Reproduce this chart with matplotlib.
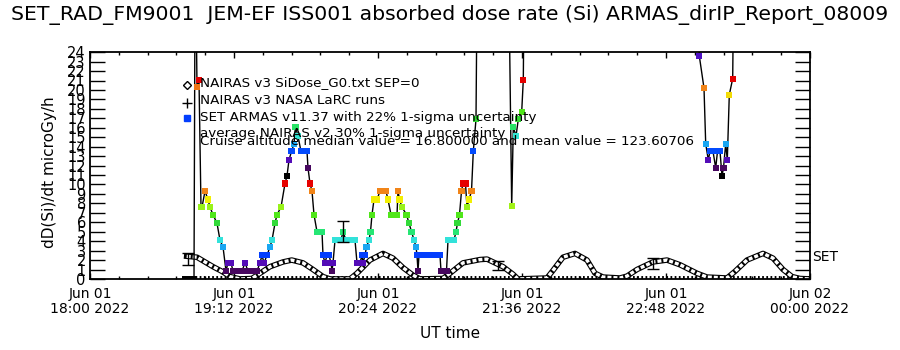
import numpy as np
import matplotlib
matplotlib.use("Agg")
import matplotlib.pyplot as plt
from matplotlib.colors import LinearSegmentedColormap
from matplotlib.ticker import MultipleLocator

# ---------------- data ----------------
title = "SET_RAD_FM9001  JEM-EF ISS001 absorbed dose rate (Si) ARMAS_dirIP_Report_08009"

# minutes after 2022-06-01 18:00 UT
tick_minutes = [0, 72, 144, 216, 288, 360]
tick_labels = ["Jun 01\n18:00 2022", "Jun 01\n19:12 2022", "Jun 01\n20:24 2022",
               "Jun 01\n21:36 2022", "Jun 01\n22:48 2022", "Jun 02\n00:00 2022"]

# NAIRAS v3 SiDose_G0 (diamonds)
nairas_minutes = [48.35, 53.5, 61.5, 66, 70, 75, 81, 85, 90, 96.5, 100.85, 106.5, 111.5,
                  116.5, 120, 130, 133.5, 140, 146.5, 151.5, 156.5, 161.5, 165, 176.5,
                  180, 186.5, 195, 198.5, 202.5, 206.5, 211.5, 214, 228.5, 231.5, 236.5,
                  242.5, 248.5, 252.5, 256.5, 265, 268.5, 273.5, 281.5, 288.5, 295,
                  303.5, 308.5, 318.5, 322.5, 328.5, 336.5, 341.5, 346.5, 351, 355, 360]
nairas_values = [2.4, 2.3, 1.3, 0.8, 0.25, 0.0, 0.05, 0.6, 1.3, 1.8, 2.0, 1.7, 1.0,
                 0.25, 0.0, 0.0, 0.6, 2.0, 2.7, 2.2, 1.2, 0.4, 0.0, 0.05,
                 0.6, 1.7, 2.05, 2.1, 1.7, 1.3, 0.5, 0.0, 0.1, 0.9, 2.3,
                 2.7, 2.0, 0.6, 0.2, 0.1, 0.3, 1.0, 1.8, 2.0, 1.5,
                 0.6, 0.2, 0.1, 0.8, 2.0, 2.7, 2.2, 1.0, 0.25, 0.05, 0.0]

# NAIRAS v3 NASA LaRC runs (+), zero level
larc_minutes = [52.5, 360]
larc_values = [0.0, 0.0]

# average NAIRAS v2 with 30% 1-sigma uncertainty
avg_minutes = [49, 126.5, 204, 281.5]
avg_values = [2.1, 5.0, 1.4, 1.65]
avg_errors = [0.6, 1.1, 0.45, 0.55]

# SET ARMAS v11.37 (values above 24 are off scale)
armas_minutes = [47.5, 49, 50.5, 52, 52.5, 53, 53.5, 54.5, 55.5, 56, 57.5, 59, 60, 61.5,
                 63.5, 65, 66.5, 68, 69, 70.5, 71.5, 73, 74.5, 76, 77.5, 79, 80.5, 82,
                 83.5, 85, 86, 87, 88.5, 90, 91, 92.5, 93.5, 95.5, 97.5, 98.5, 99.5,
                 100.75, 102, 102.75, 104, 105.5, 107, 108.5, 109, 110, 111, 112, 113.5,
                 115, 116, 116.5, 117.5, 118.5, 119.5, 120.5, 121, 121.5, 122.5, 124,
                 125.5, 126.5, 128, 129.5, 131, 132.5, 133.5, 135, 136, 136.5, 137.5,
                 138.25, 139.5, 140.25, 141, 142, 143.5, 145, 146.5, 148, 149, 150.5,
                 152, 153.5, 154, 154.75, 156, 158.25, 159.5, 160.75, 162, 163, 163.5,
                 164, 164.5, 166, 167.5, 169, 170.5, 172, 173.5, 175, 175.5, 177, 178.25,
                 179, 180.5, 182, 183, 183.75, 184.75, 185.75, 186.5, 187.75, 188.5,
                 189.5, 190.75, 191.65, 193, 193.5, 209.5, 210.85, 211.65, 213, 214.15,
                 215.85, 216.65, 217, 304, 304.65, 307, 307.85, 309.15, 310, 311.5,
                 312.85, 313.75, 315, 316, 316.75, 317.85, 318.65, 319.65, 321.35, 321.75]
armas_values = [0, 0, 0, 0, 30, 30, 20.3, 21.05, 7.6, 7.6, 9.3, 8.4, 7.6, 6.8,
                5.9, 4.1, 3.4, 0.85, 1.7, 1.7, 0.85, 0.85, 0.85, 0.85, 1.7, 0.85, 0.85, 0.85,
                0.85, 1.7, 2.5, 1.7, 2.5, 3.4, 4.1, 5.9, 6.8, 7.6, 10.1, 10.9, 12.6,
                13.5, 14.3, 16.1, 15.1, 13.5, 13.5, 13.5, 11.75, 10.1, 9.3, 6.8, 5.0,
                5.0, 5.0, 2.5, 1.7, 2.5, 2.5, 1.7, 0.85, 1.7, 4.1, 4.1,
                4.1, 5.0, 4.1, 4.1, 4.1, 4.1, 1.7, 1.7, 2.5, 1.7, 2.5,
                3.4, 4.1, 5.0, 6.8, 8.4, 8.4, 9.3, 9.3, 9.3, 8.4, 6.8,
                6.8, 6.8, 9.3, 8.4, 7.6, 6.8, 5.9, 5.0, 4.1, 3.4, 2.5,
                0.85, 2.5, 2.5, 2.5, 2.5, 2.5, 2.5, 2.5, 2.5, 0.85, 0.85, 0.85,
                4.1, 4.1, 4.1, 5.0, 5.9, 6.8, 9.3, 10.1, 10.1, 7.6,
                8.4, 9.3, 13.5, 16.9, 30, 30, 7.7, 16.1, 15.1, 16.9,
                17.7, 21.05, 30, 30, 23.6, 20.2, 14.3, 12.6, 13.5, 13.5,
                11.75, 13.5, 13.5, 10.9, 11.75, 14.3, 12.6, 19.5, 21.2, 30]

legend_lines = ["NAIRAS v3 SiDose_G0.txt SEP=0",
                "NAIRAS v3 NASA LaRC runs",
                "SET ARMAS v11.37 with 22% 1-sigma uncertainty",
                "average NAIRAS v2 30% 1-sigma uncertainty",
                "Cruise altitude median value = 16.800000 and mean value = 123.60706"]

# ---------------- style ----------------
color_cycle = 10.9
cmap = LinearSegmentedColormap.from_list("idl_rainbow", [
    (0.00, (0.0, 0.0, 0.0)),
    (0.08, (0.30, 0.03, 0.40)),
    (0.16, (0.33, 0.05, 0.75)),
    (0.23, (0.0, 0.25, 1.0)),
    (0.31, (0.10, 0.65, 0.95)),
    (0.38, (0.20, 0.90, 0.85)),
    (0.46, (0.15, 0.90, 0.45)),
    (0.55, (0.20, 0.85, 0.20)),
    (0.62, (0.30, 0.90, 0.10)),
    (0.70, (0.60, 0.95, 0.10)),
    (0.77, (0.95, 0.95, 0.0)),
    (0.85, (0.95, 0.55, 0.10)),
    (0.93, (0.90, 0.0, 0.0)),
    (1.00, (0.90, 0.0, 0.0)),
])

fig = plt.figure(figsize=(9, 3.5), dpi=100)
ax = fig.add_axes([0.1, 0.203, 0.8, 0.648])

# NAIRAS diamonds curve (hatched look)
ax.plot(nairas_minutes, nairas_values, color="black", lw=4.0, zorder=2,
        solid_joinstyle="round")
ax.plot(nairas_minutes, nairas_values, color="white", lw=2.4, zorder=2.1,
        dashes=(1.2, 0.6))

# LaRC zero-level + markers
ax.plot(larc_minutes, larc_values, color="black", lw=5, dashes=(0.25, 0.35), zorder=2)

# average NAIRAS v2 error bars
ax.errorbar(avg_minutes, avg_values, yerr=avg_errors, fmt="none", ecolor="black",
            elinewidth=1, capsize=4, capthick=1, zorder=4)

# ARMAS line + coloured dots
ax.plot(armas_minutes, armas_values, color="black", lw=1, zorder=3)
arm_v = np.array(armas_values, dtype=float)
ax.scatter(armas_minutes, armas_values, c=cmap((arm_v % color_cycle) / color_cycle),
           marker="s", s=20, linewidths=0, zorder=3.5)

ax.set_xlim(0, 360)
ax.set_ylim(0, 24)

ax.set_xticks(tick_minutes)
ax.set_xticklabels(tick_labels, fontsize=10, linespacing=1.1)
ax.xaxis.set_minor_locator(MultipleLocator(14.4))
ax.yaxis.set_major_locator(MultipleLocator(1))
ax.set_yticklabels([str(int(v)) for v in ax.get_yticks()], fontsize=10.5)
ax.set_ylim(0, 24)

ax.tick_params(axis="y", which="major", direction="in", length=11, width=1,
               left=True, right=True, pad=3)
ax.tick_params(axis="x", which="major", direction="in", length=4, width=1,
               top=True, bottom=True, pad=6)
ax.tick_params(axis="x", which="minor", direction="in", length=2.5, width=1,
               top=True, bottom=True)
for s in ax.spines.values():
    s.set_linewidth(1.3)

ax.set_ylabel("dD(Si)/dt microGy/h", fontsize=11)
ax.yaxis.set_label_coords(-0.046, 0.47)

fig.text(0.5, 1 - 333 / 350, "UT time", ha="center", va="center", fontsize=11)
fig.text(0.5, 1 - 15 / 350, title, ha="center", va="center", fontsize=14.7)
fig.text(812 / 900, 1 - 257 / 350, "SET", ha="left", va="center", fontsize=10)

# legend drawn as in original
sym_x = 0.135
txt_x = 0.153
ys = [0.866, 0.786, 0.711, 0.643, 0.608]
ax.plot([sym_x], [ys[0] - 0.01], marker="D", ms=4, mfc="white", mec="black",
        transform=ax.transAxes, clip_on=False)
ax.plot([sym_x], [ys[1] - 0.01], marker="+", ms=7, color="black",
        transform=ax.transAxes, clip_on=False)
ax.plot([sym_x], [ys[2] - 0.0], marker="s", ms=5, color=cmap(0.23),
        transform=ax.transAxes, clip_on=False)
for y, t in zip(ys, legend_lines):
    ax.text(txt_x, y, t, transform=ax.transAxes, fontsize=9.7, ha="left",
            va="center", zorder=5)

fig.savefig("out.png", dpi=100)
